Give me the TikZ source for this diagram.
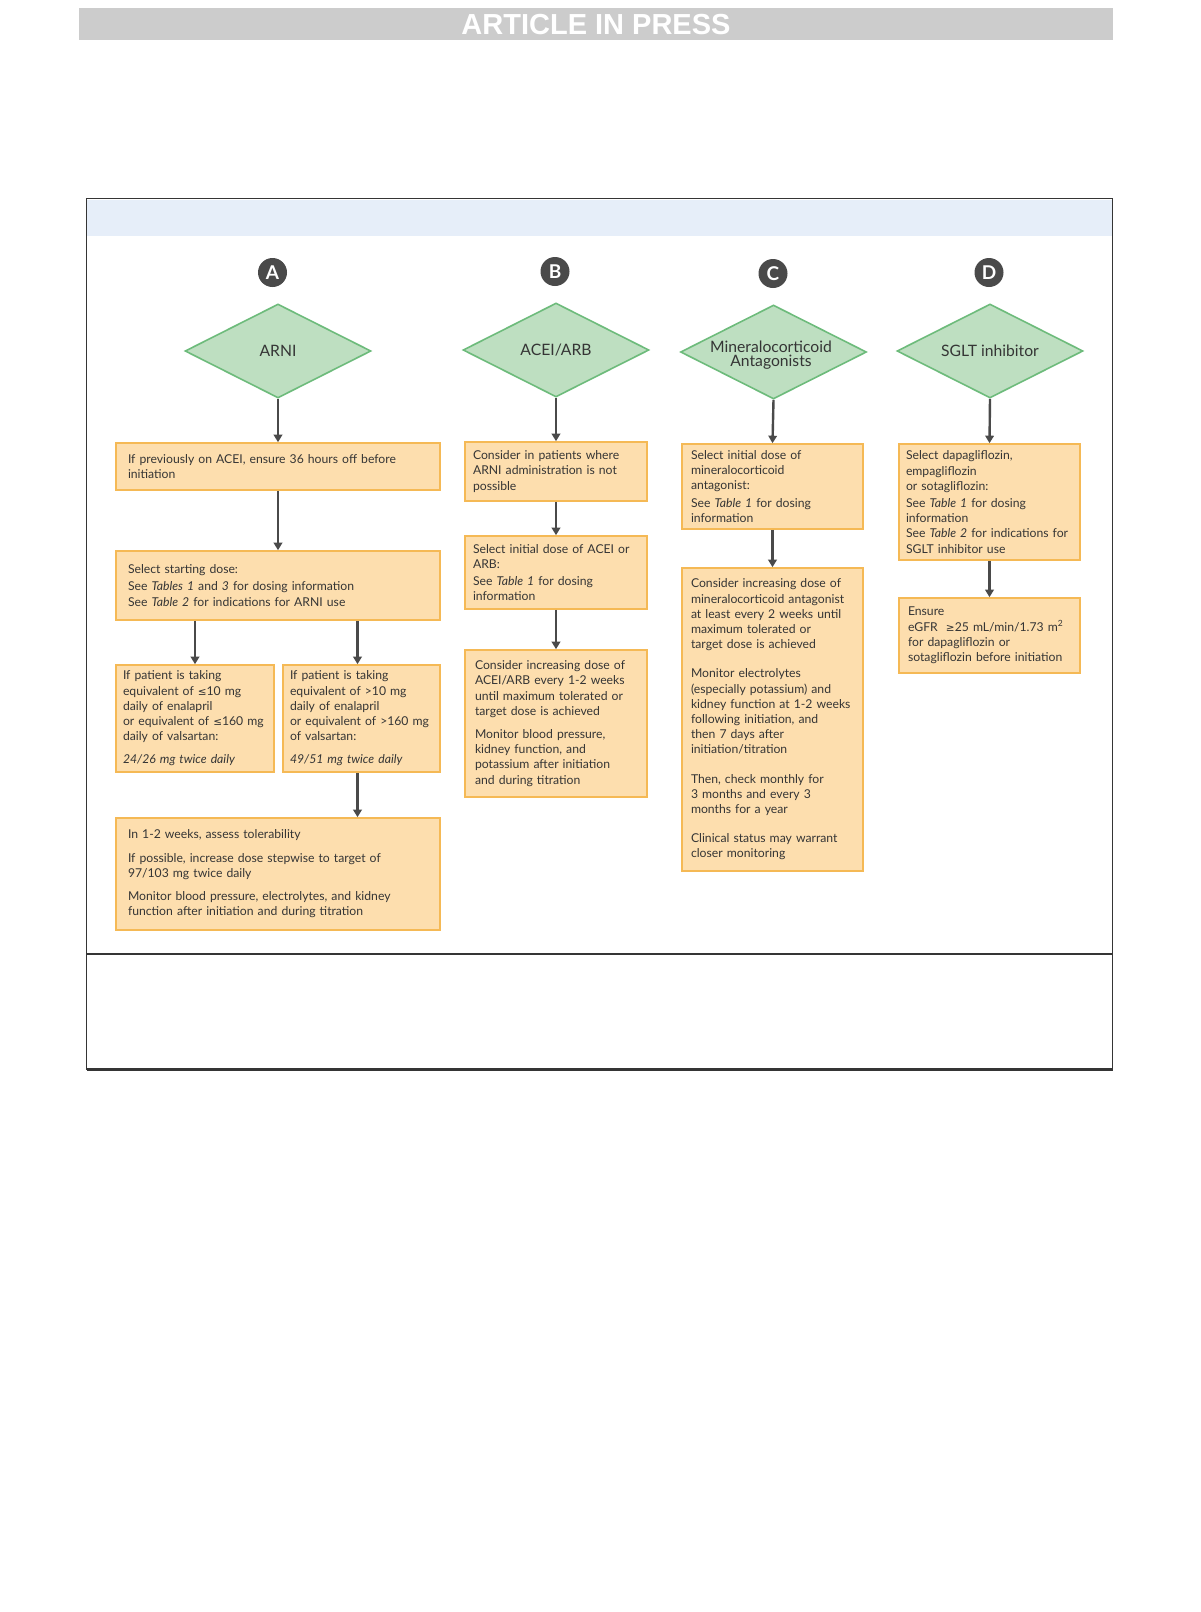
\documentclass[tikz,border=0pt]{standalone}
\usepackage{fontspec}
\setmainfont{Lato}
\newfontfamily\hdrfont{Liberation Sans}
\newfontfamily\symf{DejaVu Sans}[Scale=0.86]
\usetikzlibrary{shapes.geometric,arrows.meta,calc}
\definecolor{boxfill}{HTML}{FDDEAE}
\definecolor{boxline}{HTML}{F5B955}
\definecolor{dmfill}{HTML}{BEDFC1}
\definecolor{dmline}{HTML}{6DBB7B}
\definecolor{band}{HTML}{E6EEF9}
\definecolor{hdrgray}{HTML}{CCCCCC}
\definecolor{ink}{HTML}{353535}
\definecolor{arrowc}{HTML}{4A4A4A}
\newcommand{\lesym}{{\symf ≤}}
\newcommand{\gesym}{{\symf ≥}}
\tikzset{
  box/.style={draw=boxline, fill=boxfill, line width=1.6pt, rectangle, align=left,
    inner xsep=8pt, inner ysep=0pt, text=ink,
    font=\fontsize{12.2}{15.2}\selectfont},
  dm/.style={draw=dmline, fill=dmfill, line width=1.6pt, diamond, aspect=2, inner sep=0pt,
    minimum width=186pt, minimum height=94pt, align=center, text=ink,
    font=\fontsize{15.7}{14.5}\selectfont},
  dmtext/.style={inner sep=0pt, align=center, text=ink, font=\fontsize{15.7}{14.5}\selectfont},
  letter/.style={circle, fill=arrowc, text=white, minimum size=29pt, inner sep=0pt,
    font=\fontsize{19}{19}\selectfont\bfseries},
  flow/.style={draw=arrowc, line width=2.4pt, -{Triangle[width=8.5pt,length=7.5pt]}},
  frameline/.style={draw=ink, line width=1.4pt}
}
\begin{document}
\begin{tikzpicture}[x=1pt,y=-1pt]
\useasboundingbox (0,0) rectangle (1200,1612);
\fill[white] (0,0) rectangle (1200,1612);
% header
\fill[hdrgray] (79,8) rectangle (1113,40);
\node[text=white, font=\hdrfont\bfseries\fontsize{29}{29}\selectfont, inner sep=0pt] (hdr) at (596,24.5) {ARTICLE IN PRESS};
% frame
\fill[band] (87,199.5) rectangle (1112,236);
\draw[frameline] (86.5,198.5) rectangle (1112.5,1069.5);
\draw[frameline] (86.5,954) -- (1112.5,954);
\draw[draw=ink, line width=2.4pt] (86.5,1069.5) -- (1112.5,1069.5);
% letters
\node[letter] (LA) at (272.5,272.5) {A};
\node[letter] (LB) at (555,271.5) {B};
\node[letter] (LC) at (773,273.5) {C};
\node[letter] (LD) at (989,272.5) {D};
% diamonds
\node[dm] (DA) at (278,351) {ARNI};
\node[dm] (DB) at (556,350) {ACEI/ARB};
\node[dm] (DC) at (773.5,352) {};
\node[dmtext] (DCt) at (771,355) {Mineralocorticoid\\Antagonists};
\node[dm] (DD) at (990,351) {SGLT inhibitor};
% column A
\node[box, inner xsep=12pt, text width=300pt, minimum height=47pt] (A1) at (278,466.5)
 {If previously on ACEI, ensure 36 hours off before\\ initiation};
\node[box, inner xsep=12pt, text width=300pt, minimum height=69pt] (A2) at (278,585.5)
 {Select starting dose:\\[2pt] See \textit{Tables 1} and \textit{3} for dosing information\\ See \textit{Table 2} for indications for ARNI use};
\node[box, inner xsep=7pt, text width=144pt, minimum height=107pt] (A3) at (195,718.5)
 {If patient is taking\\ equivalent of \lesym10 mg\\ daily of enalapril\\ or equivalent of \lesym160 mg\\ daily of valsartan:\\[8pt] \textit{24/26 mg twice daily}};
\node[box, inner xsep=7pt, text width=143pt, minimum height=107pt] (A4) at (361.5,718.5)
 {If patient is taking\\ equivalent of >10 mg\\ daily of enalapril\\ or equivalent of >160 mg\\ of valsartan:\\[8pt] \textit{49/51 mg twice daily}};
\node[box, inner xsep=12pt, text width=300pt, minimum height=112pt] (A5) at (278,874)
 {In 1-2 weeks, assess tolerability\\[8pt] If possible, increase dose stepwise to target of\\ 97/103 mg twice daily\\[8pt] Monitor blood pressure, electrolytes, and kidney\\ function after initiation and during titration};
% column B
\node[box, text width=166pt, minimum height=59pt] (B1) at (556,471.5)
 {Consider in patients where\\ ARNI administration is not\\ possible};
\node[box, text width=166pt, minimum height=73pt] (B2) at (556,572.5)
 {Select initial dose of ACEI or\\ ARB:\\[2pt] See \textit{Table 1} for dosing\\ information};
\node[box, inner xsep=10pt, text width=162pt, minimum height=147pt] (B3) at (556,723.5)
 {Consider increasing dose of\\ ACEI/ARB every 1-2 weeks\\ until maximum tolerated or\\ target dose is achieved\\[8pt] Monitor blood pressure,\\ kidney function, and\\ potassium after initiation\\ and during titration};
% column C
\node[box, inner xsep=9pt, text width=163pt, minimum height=85pt] (C1) at (772.5,486.5)
 {Select initial dose of\\ mineralocorticoid\\ antagonist:\\[2pt] See \textit{Table 1} for dosing\\ information};
\node[box, inner xsep=9pt, text width=163pt, minimum height=303pt] (C2) at (772.5,719.5)
 {Consider increasing dose of\\ mineralocorticoid antagonist\\ at least every 2 weeks until\\ maximum tolerated or\\ target dose is achieved\\[14pt] Monitor electrolytes\\ (especially potassium) and\\ kidney function at 1-2 weeks\\ following initiation, and\\ then 7 days after\\ initiation/titration\\[14pt] Then, check monthly for\\ 3 months and every 3\\ months for a year\\[14pt] Clinical status may warrant\\ closer monitoring};
% column D
\node[box, inner xsep=7pt, text width=167pt, minimum height=116pt] (D1) at (989.5,502)
 {Select dapagliflozin,\\ empagliflozin\\ or sotagliflozin:\\[2pt] See \textit{Table 1} for dosing\\ information\\ See \textit{Table 2} for indications for\\ SGLT inhibitor use};
\node[box, inner xsep=9pt, text width=163pt, minimum height=75pt] (D2) at (989.5,635.5)
 {Ensure\\ eGFR\ \ \gesym25 mL/min/1.73 m\textsuperscript{2}\\ for dapagliflozin or\\ sotagliflozin before initiation};
% arrows
\draw[flow] (DA.south) -- (A1.north);
\draw[flow] (A1.south) -- (A2.north);
\draw[flow] (A2.south -| A3.north) -- (A3.north);
\draw[flow] ($(A2.south -| A4.north)+(-4,0)$) -- ($(A4.north)+(-4,0)$);
\draw[flow] ($(A4.south)+(-4,0)$) -- ($(A4.south |- A5.north)+(-4,0)$);
\draw[flow] (DB.south) -- (B1.north);
\draw[flow] (B1.south) -- (B2.north);
\draw[flow] (B2.south) -- (B3.north);
\draw[flow] (DC.south) -- (C1.north);
\draw[flow] (C1.south) -- (C2.north);
\draw[flow] (DD.south) -- (D1.north);
\draw[flow] (D1.south) -- (D2.north);
\end{tikzpicture}
\end{document}
